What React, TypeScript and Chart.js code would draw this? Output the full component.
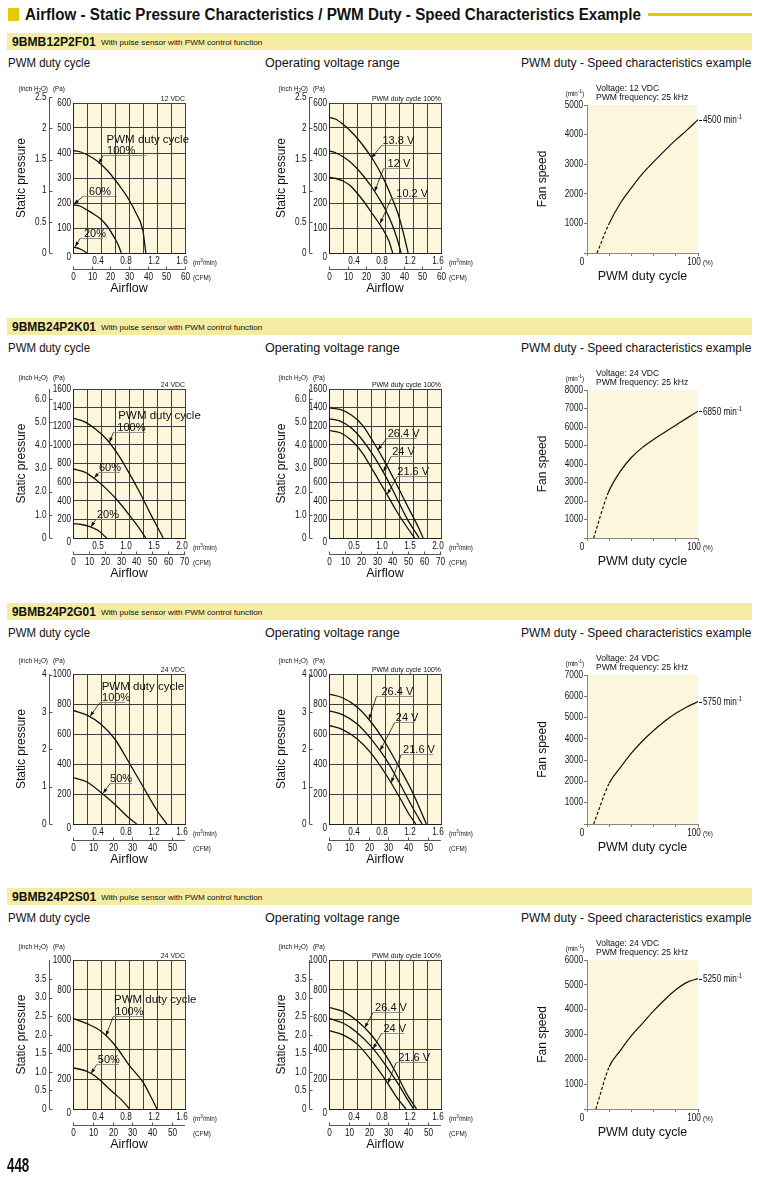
import React, { useEffect, useLayoutEffect, useRef, useState } from 'react';
import { Chart, registerables } from 'chart.js';

Chart.register(...registerables);

type Pt = [number, number];
type Ann = { u: Pt; w: number; dx: number; tip: Pt };

const SANS = "'Liberation Sans', Arial, Helvetica, sans-serif";
const NSX = 0.82; // horizontal squeeze used for the condensed numerals
const CREAM = '#fcf7dc';
const BAR = '#f5eca4';
const YELLOW = '#e4ca00';
const INK = '#111111';
const GRID = '#3f3f3f';
const INCH_PA = 249.089;
const CFM_M3 = 0.0283168;

// ---------------- text ----------------
const pageTitle = 'Airflow - Static Pressure Characteristics / PWM Duty - Speed Characteristics Example';
const modelNames = ['9BMB12P2F01', '9BMB24P2K01', '9BMB24P2G01', '9BMB24P2S01'];
const modelNote = 'With pulse sensor with PWM control function';
const panelTitles = ['PWM duty cycle', 'Operating voltage range', 'PWM duty - Speed characteristics example'];
const ratedVoltages = ['12 VDC', '24 VDC', '24 VDC', '24 VDC'];
const voltNote = 'PWM duty cycle 100%';
const dutyHeading = 'PWM duty cycle';
const pressureTitle = 'Static pressure';
const flowTitle = 'Airflow';
const speedTitle = 'Fan speed';
const dutyTitle = 'PWM duty cycle';
const pwmFrequency = 'PWM frequency: 25 kHz';
const pageNumber = '448';

const f01DutyLabels = ['100%', '60%', '20%'];
const k01DutyLabels = ['100%', '60%', '20%'];
const g01DutyLabels = ['100%', '50%'];
const s01DutyLabels = ['100%', '50%'];
const f01VoltLabels = ['13.8 V', '12 V', '10.2 V'];
const k01VoltLabels = ['26.4 V', '24 V', '21.6 V'];
const g01VoltLabels = ['26.4 V', '24 V', '21.6 V'];
const s01VoltLabels = ['26.4 V', '24 V', '21.6 V'];
const ratedSpeeds = [4500, 6850, 5750, 5250];

// ---------------- axes ----------------
const inchTicksR1 = [0, 0.5, 1, 1.5, 2, 2.5];
const inchLabelsR1 = ['0', '0.5', '1', '1.5', '2', '2.5'];
const inchTicksR2 = [0, 1, 2, 3, 4, 5, 6];
const inchLabelsR2 = ['0', '1.0', '2.0', '3.0', '4.0', '5.0', '6.0'];
const inchTicksR3 = [0, 1, 2, 3, 4];
const inchLabelsR3 = ['0', '1', '2', '3', '4'];
const inchTicksR4 = [0, 0.5, 1, 1.5, 2, 2.5, 3, 3.5];
const inchLabelsR4 = ['0', '0.5', '1.0', '1.5', '2.0', '2.5', '3.0', '3.5'];
const cfmTicksR1 = [0, 10, 20, 30, 40, 50, 60];
const cfmTicksR2 = [0, 10, 20, 30, 40, 50, 60, 70];
const cfmTicksR34 = [0, 10, 20, 30, 40, 50];
const flowMax = [1.6, 2.0, 1.6, 1.6];
const flowGridStep = [0.2, 0.25, 0.2, 0.2];
const flowLabelStep = [0.4, 0.5, 0.4, 0.4];
const pressureMax = [600, 1600, 1000, 1000];
const pressureStep = [100, 200, 200, 200];
const speedMax = [5000, 8000, 7000, 6000];

// ---------------- data: airflow (m³/min), static pressure (Pa) ----------------
const f01Duty100: Pt[] = [[0, 410], [0.1, 405], [0.2, 393], [0.3, 377], [0.4, 355], [0.5, 327], [0.6, 293], [0.7, 255], [0.8, 213], [0.9, 160], [1.0, 87], [1.04, 0]];
const f01Duty60: Pt[] = [[0, 193], [0.1, 188], [0.2, 172], [0.3, 155], [0.4, 135], [0.5, 103], [0.6, 57], [0.65, 30], [0.69, 0]];
const f01Duty20: Pt[] = [[0, 23], [0.05, 21], [0.1, 16], [0.15, 9], [0.2, 0]];
const f01V138: Pt[] = [[0, 543], [0.1, 535], [0.2, 515], [0.3, 490], [0.4, 460], [0.5, 425], [0.6, 385], [0.7, 340], [0.8, 285], [0.9, 220], [1.0, 145], [1.08, 60], [1.13, 0]];
const f01V120: Pt[] = [[0, 409], [0.1, 400], [0.2, 385], [0.3, 365], [0.4, 338], [0.5, 305], [0.6, 268], [0.7, 225], [0.8, 177], [0.9, 115], [0.97, 60], [1.03, 0]];
const f01V102: Pt[] = [[0, 303], [0.1, 298], [0.2, 288], [0.3, 270], [0.4, 240], [0.5, 205], [0.6, 165], [0.7, 125], [0.8, 80], [0.86, 45], [0.91, 0]];

const k01Duty100: Pt[] = [[0, 1288], [0.2, 1250], [0.4, 1170], [0.6, 1060], [0.8, 900], [1.0, 700], [1.2, 480], [1.4, 240], [1.55, 70], [1.61, 0]];
const k01Duty60: Pt[] = [[0, 741], [0.2, 710], [0.4, 630], [0.6, 525], [0.8, 400], [1.0, 250], [1.2, 90], [1.3, 0]];
const k01Duty20: Pt[] = [[0, 154], [0.15, 145], [0.3, 122], [0.45, 80], [0.6, 0]];
const k01V264: Pt[] = [[0, 1397], [0.2, 1380], [0.4, 1320], [0.6, 1210], [0.8, 1023], [1.0, 815], [1.2, 585], [1.4, 345], [1.6, 110], [1.68, 0]];
const k01V240: Pt[] = [[0, 1279], [0.2, 1255], [0.4, 1180], [0.6, 1050], [0.8, 880], [1.0, 675], [1.2, 440], [1.4, 200], [1.61, 0]];
const k01V216: Pt[] = [[0, 1155], [0.2, 1130], [0.4, 1050], [0.6, 910], [0.8, 710], [1.0, 505], [1.2, 295], [1.4, 110], [1.53, 0]];

const g01Duty100: Pt[] = [[0, 757], [0.2, 726], [0.4, 665], [0.6, 565], [0.8, 410], [1.0, 250], [1.2, 90], [1.34, 0]];
const g01Duty50: Pt[] = [[0, 310], [0.2, 280], [0.4, 210], [0.6, 130], [0.8, 40], [0.91, 0]];
const g01V264: Pt[] = [[0, 866], [0.2, 840], [0.4, 780], [0.6, 680], [0.8, 545], [1.0, 380], [1.2, 205], [1.39, 0]];
const g01V240: Pt[] = [[0, 755], [0.2, 728], [0.4, 668], [0.6, 568], [0.8, 442], [1.0, 280], [1.2, 105], [1.33, 0]];
const g01V216: Pt[] = [[0, 657], [0.2, 628], [0.4, 568], [0.6, 472], [0.8, 340], [1.0, 185], [1.15, 60], [1.24, 0]];

const s01Duty100: Pt[] = [[0, 608], [0.2, 573], [0.4, 522], [0.6, 428], [0.8, 295], [1.0, 180], [1.1, 94], [1.2, 0]];
const s01Duty50: Pt[] = [[0, 277], [0.2, 253], [0.3, 226], [0.4, 188], [0.5, 142], [0.6, 100], [0.7, 58], [0.81, 0]];
const s01V264: Pt[] = [[0, 682], [0.2, 655], [0.4, 592], [0.6, 500], [0.8, 368], [1.0, 205], [1.1, 110], [1.25, 0]];
const s01V240: Pt[] = [[0, 608], [0.2, 577], [0.4, 514], [0.6, 422], [0.8, 300], [1.0, 160], [1.1, 80], [1.21, 0]];
const s01V216: Pt[] = [[0, 526], [0.2, 497], [0.4, 437], [0.6, 330], [0.8, 200], [0.96, 83], [1.1, 0]];

// ---------------- data: PWM duty (%), fan speed (min⁻¹) ----------------
const f01Speed: Pt[] = [[9, 0], [20, 1000], [30, 1680], [40, 2200], [50, 2680], [60, 3080], [70, 3460], [80, 3820], [90, 4150], [100, 4500]];
const k01Speed: Pt[] = [[6, 0], [19, 2430], [30, 3600], [40, 4350], [50, 4900], [60, 5330], [70, 5720], [80, 6100], [90, 6480], [100, 6850]];
const g01Speed: Pt[] = [[6, 0], [20, 1920], [30, 2650], [40, 3330], [50, 3900], [60, 4390], [70, 4830], [80, 5200], [90, 5500], [100, 5750]];
const s01Speed: Pt[] = [[8, 0], [20, 1700], [30, 2350], [40, 2950], [50, 3450], [60, 3950], [70, 4400], [80, 4800], [90, 5100], [100, 5250]];

// ---------------- annotation placement (data coordinates) ----------------
const dutyHeadingAt: Pt[] = [[0.48, 452], [0.81, 1310], [0.41, 914], [0.586, 732]];
const dutyNotes: Ann[][] = [
  [{ u: [0.43, 392], w: 44, dx: 4, tip: [0.367, 358] }, { u: [0.143, 229], w: 34, dx: 6, tip: [0.014, 196] }, { u: [0.1, 61], w: 23, dx: 4, tip: [0.03, 25] }],
  [{ u: [0.72, 1142], w: 32, dx: 4, tip: [0.65, 1025] }, { u: [0.464, 712], w: 21, dx: 0, tip: [0.38, 645] }, { u: [0.41, 201], w: 21, dx: 1, tip: [0.32, 121] }],
  [{ u: [0.386, 811], w: 25, dx: 2, tip: [0.243, 718] }, { u: [0.53, 275], w: 22, dx: 0, tip: [0.43, 205] }],
  [{ u: [0.576, 624], w: 30, dx: 2, tip: [0.47, 492] }, { u: [0.34, 302], w: 22, dx: 1, tip: [0.257, 238] }],
];
const voltNotes: Ann[][] = [
  [{ u: [0.75, 432], w: 30, dx: 1, tip: [0.606, 380] }, { u: [0.78, 339], w: 27, dx: 4, tip: [0.65, 245] }, { u: [0.89, 221], w: 35, dx: 5, tip: [0.73, 118] }],
  [{ u: [1.03, 1073], w: 30, dx: 1, tip: [0.87, 945] }, { u: [1.11, 879], w: 21, dx: 1, tip: [0.97, 712] }, { u: [1.22, 661], w: 30, dx: 0, tip: [1.04, 470] }],
  [{ u: [0.678, 855], w: 37, dx: 5, tip: [0.57, 697] }, { u: [0.94, 682], w: 20, dx: 1, tip: [0.73, 490] }, { u: [1.03, 469], w: 32, dx: 2, tip: [0.89, 275] }],
  [{ u: [0.63, 651], w: 30, dx: 2, tip: [0.51, 545] }, { u: [0.75, 512], w: 23, dx: 2, tip: [0.63, 405] }, { u: [0.96, 317], w: 30, dx: 2, tip: [0.84, 172] }],
];

// ---------------- layout ----------------
const ROW_STEP = 285;
const plotTops = [103, 389, 674, 960];
const plotBottoms = [253, 538, 824, 1109];
const speedTops = [105, 390, 675, 960];
const unitsDy = [-15, -12, -14, -14];

// ---------------- drawing helpers ----------------
type Part = { t: string; s?: 'sup' | 'sub' };
const crisp = (v: number) => Math.round(v) + 0.5;
function line(ctx: any, x1: number, y1: number, x2: number, y2: number) {
  ctx.beginPath(); ctx.moveTo(x1, y1); ctx.lineTo(x2, y2); ctx.stroke();
}
function nText(ctx: any, t: string, x: number, y: number, size: number, align = 'left', sx = NSX) {
  ctx.save();
  ctx.translate(x, y); ctx.scale(sx, 1);
  ctx.font = `${size}px ${SANS}`; ctx.textAlign = align; ctx.textBaseline = 'middle';
  ctx.fillText(t, 0, 0);
  ctx.restore();
}
function drawRich(ctx: any, parts: Part[], x: number, yMid: number, size: number, align = 'left', sx = 1) {
  const small = size * 0.72;
  let total = 0;
  const widths = parts.map((p) => {
    ctx.font = `${p.s ? small : size}px ${SANS}`;
    const w = ctx.measureText(p.t).width * sx; total += w; return w;
  });
  let x0 = align === 'left' ? x : align === 'right' ? x - total : x - total / 2;
  const base = yMid + size * 0.36;
  parts.forEach((p, i) => {
    ctx.save();
    ctx.translate(x0, base + (p.s === 'sup' ? -size * 0.4 : p.s === 'sub' ? size * 0.22 : 0));
    ctx.scale(sx, 1);
    ctx.font = `${p.s ? small : size}px ${SANS}`;
    ctx.textAlign = 'left'; ctx.textBaseline = 'alphabetic';
    ctx.fillText(p.t, 0, 0);
    ctx.restore();
    x0 += widths[i];
  });
  return total;
}
function arrow(ctx: any, x1: number, y1: number, x2: number, y2: number) {
  line(ctx, x1, y1, x2, y2);
  const ang = Math.atan2(y2 - y1, x2 - x1);
  const L = 5, W = 1.8;
  ctx.beginPath();
  ctx.moveTo(x2, y2);
  ctx.lineTo(x2 - L * Math.cos(ang) + W * Math.sin(ang), y2 - L * Math.sin(ang) - W * Math.cos(ang));
  ctx.lineTo(x2 - L * Math.cos(ang) - W * Math.sin(ang), y2 - L * Math.sin(ang) + W * Math.cos(ang));
  ctx.closePath(); ctx.fill();
}

// ---------------- P-Q chart ----------------
interface PQSpec {
  cx: number; cy: number; cw: number; ch: number;
  plot: [number, number, number, number];
  inchX: number;
  xMax: number; xStep: number; xLabelStep: number;
  yMax: number; yStep: number;
  inchTicks: number[]; inchLabels: string[];
  cfmTicks: number[]; cfmFactor: number;
  curves: Pt[][]; labels: string[]; anns: Ann[];
  note: string; heading?: Pt; unitsDy: number;
}

function makePQ(canvas: HTMLCanvasElement, s: PQSpec) {
  const [pl, pt, pr, pb] = s.plot;
  const YW = 20, XH = 14;
  const padding = { left: pl - s.cx - YW, top: pt - s.cy, right: s.cx + s.cw - pr, bottom: s.cy + s.ch - pb - XH };
  const plugin = {
    id: 'pqDecor',
    beforeDraw(chart: any) {
      const { ctx, chartArea: a } = chart;
      ctx.save(); ctx.fillStyle = CREAM; ctx.fillRect(a.left, a.top, a.right - a.left, a.bottom - a.top); ctx.restore();
    },
    afterDraw(chart: any) {
      const { ctx, chartArea: a } = chart;
      const xs = chart.scales.x, ys = chart.scales.y;
      ctx.save();
      ctx.fillStyle = INK; ctx.strokeStyle = '#555'; ctx.lineWidth = 1;
      // Pa tick labels (from the y scale)
      ys.ticks.forEach((t: any) => {
        const y = ys.getPixelForValue(t.value);
        nText(ctx, String(t.value), a.left - 2, t.value === 0 ? a.bottom + 4 : y, 10, 'right');
      });
      // m³/min tick labels (from the x scale)
      xs.ticks.forEach((t: any) => {
        const k = t.value / s.xLabelStep;
        if (t.value > 0 && Math.abs(k - Math.round(k)) < 1e-6) {
          nText(ctx, Number(t.value).toFixed(1), xs.getPixelForValue(t.value) - 3, a.bottom + 8, 10, 'center');
        }
      });
      // inch H2O axis
      const ix = crisp(s.inchX - s.cx);
      const iys = s.inchTicks.map((t) => ys.getPixelForValue(t * INCH_PA));
      const top = Math.min(a.top, ...iys);
      line(ctx, ix, top, ix, a.bottom);
      iys.forEach((y, i) => {
        const yy = crisp(y);
        line(ctx, ix, yy, ix + 3, yy);
        nText(ctx, s.inchLabels[i], ix - 3, y, 10, 'right');
      });
      // CFM axis
      const cyy = crisp(a.bottom + 16);
      line(ctx, a.left, cyy, a.right, cyy);
      s.cfmTicks.forEach((v) => {
        const x = crisp(xs.getPixelForValue(v * s.cfmFactor));
        line(ctx, x, cyy, x, cyy - 3);
        nText(ctx, String(v), x, cyy + 8, 10, 'center');
      });
      drawRich(ctx, [{ t: '(CFM)' }], a.right + 8, cyy + 8, 7, 'left', 0.9);
      drawRich(ctx, [{ t: '(m' }, { t: '3', s: 'sup' }, { t: '/min)' }], a.right + 8, a.bottom + 9, 7, 'left', 0.9);
      const wInch = drawRich(ctx, [{ t: '(inch H' }, { t: '2', s: 'sub' }, { t: 'O)' }], ix - 31, a.top + s.unitsDy, 7, 'left', 0.9);
      drawRich(ctx, [{ t: '(Pa)' }], ix - 31 + wInch + 5, a.top + s.unitsDy, 7, 'left', 0.9);
      drawRich(ctx, [{ t: s.note }], a.right, a.top - 5, 7.5, 'right', 0.92);
      // titles
      ctx.save();
      ctx.translate(ix - 28, (a.top + a.bottom) / 2); ctx.rotate(-Math.PI / 2);
      ctx.font = `12px ${SANS}`; ctx.textAlign = 'center'; ctx.textBaseline = 'middle';
      ctx.fillText(pressureTitle, 0, 0);
      ctx.restore();
      ctx.font = `12.5px ${SANS}`; ctx.textAlign = 'center'; ctx.textBaseline = 'middle';
      ctx.fillText(flowTitle, (a.left + a.right) / 2, a.bottom + 36);
      // heading & annotations
      if (s.heading) {
        ctx.font = `11.5px ${SANS}`; ctx.textAlign = 'left'; ctx.textBaseline = 'middle';
        ctx.fillText(dutyHeading, xs.getPixelForValue(s.heading[0]), ys.getPixelForValue(s.heading[1]));
      }
      s.anns.forEach((n, i) => {
        const ux = xs.getPixelForValue(n.u[0]), uy = crisp(ys.getPixelForValue(n.u[1]));
        const tx = xs.getPixelForValue(n.tip[0]), ty = ys.getPixelForValue(n.tip[1]);
        ctx.strokeStyle = '#777'; ctx.lineWidth = 0.8;
        line(ctx, ux, uy, ux + n.w, uy);
        ctx.strokeStyle = INK; ctx.fillStyle = INK; ctx.lineWidth = 0.8;
        arrow(ctx, ux, uy, tx, ty);
        ctx.font = `11px ${SANS}`; ctx.textAlign = 'left'; ctx.textBaseline = 'alphabetic';
        ctx.fillText(s.labels[i], ux + n.dx, uy - 1.5);
      });
      ctx.restore();
    },
  };
  return new Chart(canvas, {
    type: 'line',
    data: {
      datasets: s.curves.map((c) => ({
        data: c.map(([x, y]) => ({ x, y })),
        borderColor: INK, borderWidth: 1.3, pointRadius: 0, fill: false,
        cubicInterpolationMode: 'monotone',
      })),
    },
    options: {
      responsive: false, animation: false, devicePixelRatio: 1, events: [],
      layout: { padding },
      plugins: { legend: { display: false }, tooltip: { enabled: false } },
      scales: {
        x: {
          type: 'linear', min: 0, max: s.xMax,
          afterFit: (sc: any) => { sc.height = XH; },
          grid: { color: GRID, lineWidth: 1, drawTicks: false },
          border: { color: '#222', width: 1 },
          ticks: { display: false, stepSize: s.xStep, autoSkip: false, maxRotation: 0 },
        },
        y: {
          type: 'linear', min: 0, max: s.yMax,
          afterFit: (sc: any) => { sc.width = YW; },
          grid: { color: GRID, lineWidth: 1, drawTicks: false },
          border: { color: '#222', width: 1 },
          ticks: { display: false, stepSize: s.yStep, autoSkip: false },
        },
      },
    },
    plugins: [plugin],
  } as any);
}

// ---------------- speed chart ----------------
interface SpeedSpec {
  cx: number; cy: number; cw: number; ch: number;
  plot: [number, number, number, number];
  yMax: number; curve: Pt[]; dashEnd: number; voltage: string; rated: number;
}

function makeSpeed(canvas: HTMLCanvasElement, s: SpeedSpec) {
  const [pl, pt, pr, pb] = s.plot;
  const YW = 26, XH = 14;
  const padding = { left: pl - s.cx - YW, top: pt - s.cy, right: s.cx + s.cw - pr, bottom: s.cy + s.ch - pb - XH };
  const plugin = {
    id: 'speedDecor',
    beforeDraw(chart: any) {
      const { ctx, chartArea: a } = chart;
      ctx.save(); ctx.fillStyle = CREAM; ctx.fillRect(a.left, a.top, a.right - a.left, a.bottom - a.top); ctx.restore();
    },
    afterDraw(chart: any) {
      const { ctx, chartArea: a } = chart;
      const xs = chart.scales.x, ys = chart.scales.y;
      ctx.save();
      ctx.fillStyle = INK; ctx.strokeStyle = INK; ctx.lineWidth = 1;
      ys.ticks.forEach((t: any) => {
        if (t.value > 0) nText(ctx, String(t.value), a.left - 4, ys.getPixelForValue(t.value), 10, 'right');
      });
      xs.ticks.forEach((t: any) => {
        if (t.value === 0) nText(ctx, '0', xs.getPixelForValue(0) - 5, a.bottom + 9, 10, 'center');
        if (t.value === 100) nText(ctx, '100', xs.getPixelForValue(100) - 4, a.bottom + 9, 10, 'center');
      });
      drawRich(ctx, [{ t: '(%)' }], a.right + 5, a.bottom + 9, 7, 'left', 0.9);
      drawRich(ctx, [{ t: '(min' }, { t: '-1', s: 'sup' }, { t: ')' }], a.left - 3, a.top - 12, 7, 'right', 0.9);
      drawRich(ctx, [{ t: 'Voltage: ' + s.voltage }], a.left + 9, a.top - 17, 9, 'left', 0.95);
      drawRich(ctx, [{ t: pwmFrequency }], a.left + 9, a.top - 8, 9, 'left', 0.95);
      ctx.save();
      ctx.translate(543 - s.cx, (a.top + a.bottom) / 2); ctx.rotate(-Math.PI / 2);
      ctx.font = `12px ${SANS}`; ctx.textAlign = 'center'; ctx.textBaseline = 'middle';
      ctx.fillText(speedTitle, 0, 0);
      ctx.restore();
      ctx.font = `12.5px ${SANS}`; ctx.textAlign = 'center'; ctx.textBaseline = 'middle';
      ctx.fillText(dutyTitle, (a.left + a.right) / 2, a.bottom + 24);
      const last = s.curve[s.curve.length - 1];
      const ex = xs.getPixelForValue(last[0]), ey = ys.getPixelForValue(last[1]);
      line(ctx, ex + 1, crisp(ey), ex + 4, crisp(ey));
      drawRich(ctx, [{ t: `${s.rated} min` }, { t: '-1', s: 'sup' }], ex + 5, ey, 10, 'left', NSX);
      ctx.restore();
    },
  };
  return new Chart(canvas, {
    type: 'line',
    data: {
      datasets: [{
        data: s.curve.map(([x, y]) => ({ x, y })),
        borderColor: INK, borderWidth: 1.2, pointRadius: 0, fill: false,
        cubicInterpolationMode: 'monotone',
        segment: { borderDash: (c: any) => (c.p1DataIndex <= s.dashEnd ? [3, 2] : undefined) },
      }],
    },
    options: {
      responsive: false, animation: false, devicePixelRatio: 1, events: [],
      layout: { padding },
      plugins: { legend: { display: false }, tooltip: { enabled: false } },
      scales: {
        x: {
          type: 'linear', min: 0, max: 100,
          afterFit: (sc: any) => { sc.height = XH; },
          grid: { drawOnChartArea: false, drawTicks: true, tickLength: 3, color: '#777' },
          border: { color: '#888', width: 1 },
          ticks: { display: false, stepSize: 20, autoSkip: false },
        },
        y: {
          type: 'linear', min: 0, max: s.yMax,
          afterFit: (sc: any) => { sc.width = YW; },
          grid: { drawOnChartArea: false, drawTicks: true, tickLength: 3, color: '#777' },
          border: { color: '#888', width: 1 },
          ticks: { display: false, stepSize: 1000, autoSkip: false },
        },
      },
    },
    plugins: [plugin],
  } as any);
}

// ---------------- specs ----------------
const dutyCurves = [[f01Duty100, f01Duty60, f01Duty20], [k01Duty100, k01Duty60, k01Duty20], [g01Duty100, g01Duty50], [s01Duty100, s01Duty50]];
const voltCurves = [[f01V138, f01V120, f01V102], [k01V264, k01V240, k01V216], [g01V264, g01V240, g01V216], [s01V264, s01V240, s01V216]];
const dutyLabelSets = [f01DutyLabels, k01DutyLabels, g01DutyLabels, s01DutyLabels];
const voltLabelSets = [f01VoltLabels, k01VoltLabels, g01VoltLabels, s01VoltLabels];
const speedCurves = [f01Speed, k01Speed, g01Speed, s01Speed];
const inchTickSets = [inchTicksR1, inchTicksR2, inchTicksR3, inchTicksR4];
const inchLabelSets = [inchLabelsR1, inchLabelsR2, inchLabelsR3, inchLabelsR4];
const cfmTickSets = [cfmTicksR1, cfmTicksR2, cfmTicksR34, cfmTicksR34];
const cfmFactors = [1.6 / 60, CFM_M3, CFM_M3, CFM_M3];

function pqSpec(r: number, mid: boolean): PQSpec {
  const top = plotTops[r], bottom = plotBottoms[r];
  const cx = mid ? 258 : 0;
  const cy = top - 38;
  return {
    cx, cy, cw: mid ? 252 : 258, ch: bottom - top + 38 + 47,
    plot: mid ? [329, top, 441, bottom] : [73, top, 185, bottom],
    inchX: mid ? 309 : 49,
    xMax: flowMax[r], xStep: flowGridStep[r], xLabelStep: flowLabelStep[r],
    yMax: pressureMax[r], yStep: pressureStep[r],
    inchTicks: inchTickSets[r], inchLabels: inchLabelSets[r],
    cfmTicks: cfmTickSets[r], cfmFactor: cfmFactors[r],
    curves: mid ? voltCurves[r] : dutyCurves[r],
    labels: mid ? voltLabelSets[r] : dutyLabelSets[r],
    anns: mid ? voltNotes[r] : dutyNotes[r],
    note: mid ? voltNote : ratedVoltages[r],
    heading: mid ? undefined : dutyHeadingAt[r],
    unitsDy: unitsDy[r],
  };
}

function speedSpec(r: number): SpeedSpec {
  const top = speedTops[r], bottom = plotBottoms[r];
  const cy = top - 45;
  return {
    cx: 510, cy, cw: 252, ch: bottom - top + 45 + 40,
    plot: [587, top, 698, bottom],
    yMax: speedMax[r], curve: speedCurves[r], dashEnd: 1,
    voltage: ratedVoltages[r], rated: ratedSpeeds[r],
  };
}

// ---------------- components ----------------
function ChartBox({ x, y, w, h, build }: { x: number; y: number; w: number; h: number; build: (c: HTMLCanvasElement) => Chart }) {
  const ref = useRef<HTMLCanvasElement>(null);
  useEffect(() => {
    const chart = build(ref.current as HTMLCanvasElement);
    return () => chart.destroy();
  }, []);
  return <canvas ref={ref} width={w} height={h} style={{ position: 'absolute', left: x, top: y, width: w, height: h }} />;
}

function FitText({ x, cy, w, size, weight = 400, text }: { x: number; cy: number; w: number; size: number; weight?: number; text: string }) {
  const ref = useRef<HTMLSpanElement>(null);
  const [k, setK] = useState(1);
  useLayoutEffect(() => {
    const el = ref.current;
    if (el && el.offsetWidth > 0) setK(w / el.offsetWidth);
  }, [w, text]);
  return (
    <span ref={ref} style={{
      position: 'absolute', left: x, top: cy - size * 0.6, fontSize: size, lineHeight: `${size * 1.2}px`,
      fontWeight: weight, fontFamily: SANS, whiteSpace: 'nowrap', color: INK,
      transform: `scaleX(${k})`, transformOrigin: '0 0',
    }}>{text}</span>
  );
}

function Row({ r }: { r: number }) {
  const off = ROW_STEP * r;
  const left = pqSpec(r, false), mid = pqSpec(r, true), sp = speedSpec(r);
  return (
    <>
      <div style={{ position: 'absolute', left: 7, top: 33 + off, width: 745, height: 17, background: BAR }} />
      <FitText x={12} cy={42 + off} w={84} size={13} weight={700} text={modelNames[r]} />
      <FitText x={101} cy={43 + off} w={161} size={8} text={modelNote} />
      <FitText x={8} cy={63 + off} w={82} size={12} text={panelTitles[0]} />
      <FitText x={265} cy={63 + off} w={135} size={12} text={panelTitles[1]} />
      <FitText x={521} cy={63 + off} w={230} size={12} text={panelTitles[2]} />
      <ChartBox x={left.cx} y={left.cy} w={left.cw} h={left.ch} build={(c) => makePQ(c, left)} />
      <ChartBox x={mid.cx} y={mid.cy} w={mid.cw} h={mid.ch} build={(c) => makePQ(c, mid)} />
      <ChartBox x={sp.cx} y={sp.cy} w={sp.cw} h={sp.ch} build={(c) => makeSpeed(c, sp)} />
    </>
  );
}

export default function App() {
  return (
    <div style={{ position: 'absolute', left: 0, top: 0, width: 762, height: 1178, background: '#fff', overflow: 'hidden', fontFamily: SANS }}>
      <div style={{ position: 'absolute', left: 8, top: 8, width: 11, height: 13, background: YELLOW }} />
      <FitText x={25} cy={15} w={616} size={16} weight={700} text={pageTitle} />
      <div style={{ position: 'absolute', left: 648, top: 13, width: 104, height: 3, background: YELLOW }} />
      {[0, 1, 2, 3].map((r) => <Row key={r} r={r} />)}
      <FitText x={7} cy={1165} w={22} size={20} weight={700} text={pageNumber} />
    </div>
  );
}
